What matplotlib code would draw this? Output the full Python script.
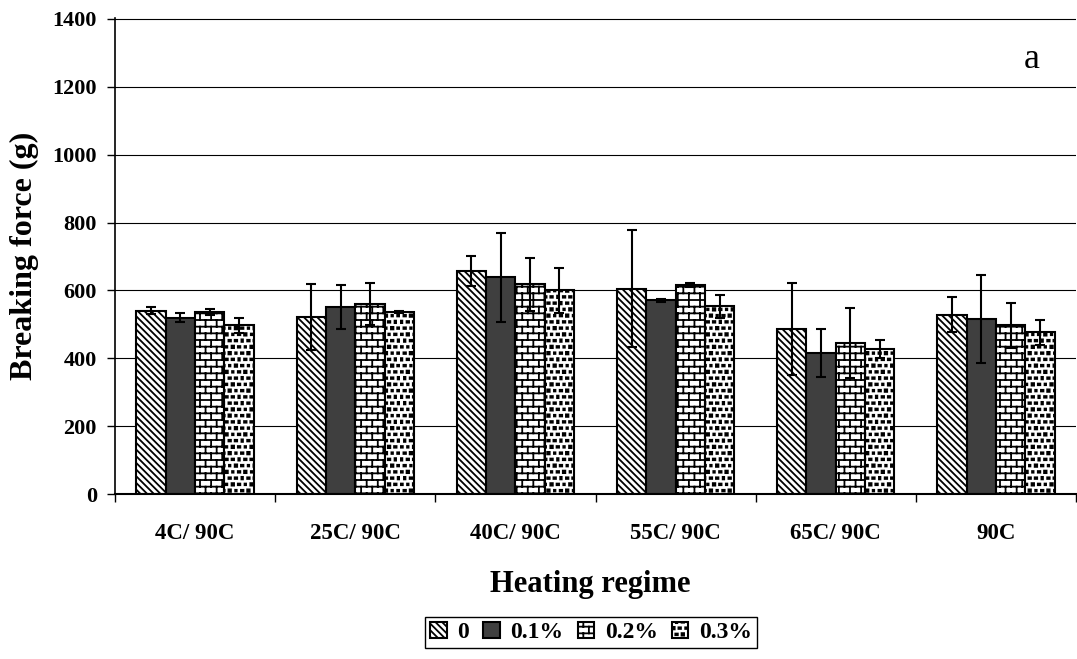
import warnings

import numpy as np
import matplotlib
matplotlib.use("Agg")
import matplotlib.pyplot as plt
from matplotlib import hatch as mhatch
from matplotlib.path import Path

warnings.filterwarnings("ignore", message=".*hatch must consist.*")

# ---------------------------------------------------------------- data
regimes = ["4C/ 90C", "25C/ 90C", "40C/ 90C", "55C/ 90C", "65C/ 90C", "90C"]
levels = ["0", "0.1%", "0.2%", "0.3%"]

force_0 = [540, 521, 657, 605, 487, 528]
force_01 = [520, 551, 639, 571, 416, 515]
force_02 = [536, 559, 618, 615, 445, 497]
force_03 = [497, 536, 600, 553, 428, 477]

err_0 = [10, 97, 43, 172, 136, 52]
err_01 = [14, 66, 131, 4, 70, 129]
err_02 = [8, 62, 79, 6, 104, 66]
err_03 = [22, 2, 67, 34, 27, 37]

yticks = [0, 200, 400, 600, 800, 1000, 1200, 1400]


# ---------------------------------------------------------------- fill patterns
class BrickHatch(mhatch.HatchPatternBase):
    """Staggered brick courses: one tile per 'b' in the hatch string."""

    def __init__(self, hatch, density):
        n = hatch.count("b")
        self.rows = 15 * n
        self.cols = 9 * n
        if n:
            self.num_vertices = 2 * (self.rows + 1) + 2 * self.rows * (self.cols + 1)
        else:
            self.num_vertices = 0

    def set_vertices_and_codes(self, vertices, codes):
        segs = []
        for i in range(self.rows + 1):
            y = i / self.rows
            segs.append(((0.0, y), (1.0, y)))
        for i in range(self.rows):
            y0, y1 = i / self.rows, (i + 1) / self.rows
            shift = 0.5 * (i % 2)
            for j in range(self.cols + 1):
                x = (j + shift) / self.cols
                segs.append(((x, y0), (x, y1)))
        vertices[:] = np.asarray(segs, dtype=float).reshape(-1, 2)
        codes[0::2] = Path.MOVETO
        codes[1::2] = Path.LINETO


class ConfettiHatch(mhatch.HatchPatternBase):
    """Staggered small filled blobs: one tile per 'q' in the hatch string."""

    def __init__(self, hatch, density):
        n = hatch.count("q")
        self.n = 16 * n
        self.num_vertices = 5 * self.n * self.n if n else 0

    def set_vertices_and_codes(self, vertices, codes):
        s = 1.0 / self.n
        verts = []
        for i in range(self.n):
            for j in range(self.n):
                # alternate blob proportions to break up the regular grid
                a = (0.40 if (i + j) % 3 else 0.24) * s
                b = (0.26 if (i + 2 * j) % 3 else 0.40) * s
                cx = (j + 0.25 + 0.5 * (i % 2)) * s
                cy = (i + 0.5) * s
                verts += [(cx - a / 2, cy - b / 2), (cx + a / 2, cy - b / 2),
                          (cx + a / 2, cy + b / 2), (cx - a / 2, cy + b / 2),
                          (cx - a / 2, cy - b / 2)]
        vertices[:] = np.asarray(verts, dtype=float)
        codes[:] = np.tile([Path.MOVETO, Path.LINETO, Path.LINETO,
                            Path.LINETO, Path.CLOSEPOLY], self.n * self.n)


mhatch._hatch_types.append(BrickHatch)
mhatch._hatch_types.append(ConfettiHatch)

# ---------------------------------------------------------------- style
plt.rcParams["font.family"] = ["Liberation Serif", "DejaVu Serif"]
plt.rcParams["font.weight"] = "bold"
plt.rcParams["axes.labelweight"] = "bold"
plt.rcParams["hatch.linewidth"] = 1.3
plt.rcParams["hatch.color"] = "black"

W, H = 1077, 659
fig = plt.figure(figsize=(W / 100, H / 100), dpi=100)

ymax = 1404
px_per_unit = 475 / 1400
ax_left, ax_right, ax_bottom = 115, 1076, 494
ax_top = ax_bottom - ymax * px_per_unit
ax = fig.add_axes([ax_left / W, 1 - ax_bottom / H,
                   (ax_right - ax_left) / W, (ax_bottom - ax_top) / H])

x = np.arange(len(regimes))
width = 0.183
series = [
    (force_0, err_0, "white", "\\\\\\\\\\"),
    (force_01, err_01, "#3f3f3f", None),
    (force_02, err_02, "white", "b"),
    (force_03, err_03, "white", "q"),
]

for k, (vals, errs, fc, hp) in enumerate(series):
    pos = x + (k - 1.5) * width
    ax.bar(pos, vals, width, color=fc, edgecolor="black", linewidth=1.5,
           hatch=hp, label=levels[k], zorder=2)
    ax.errorbar(pos, vals, yerr=errs, fmt="none", ecolor="black",
                elinewidth=1.5, capsize=3.6, capthick=1.5, zorder=3)

# ---------------------------------------------------------------- axes
ax.set_xlim(-0.5, len(regimes) - 0.5)
ax.set_ylim(0, ymax)
ax.set_yticks(yticks)
ax.yaxis.grid(True, color="black", linewidth=0.8)
ax.set_axisbelow(True)

ax.set_xticks(np.arange(-0.5, len(regimes), 1.0))
ax.set_xticklabels([])
ax.set_xticks(x, minor=True)
ax.set_xticklabels(regimes, minor=True)
ax.tick_params(axis="x", which="major", length=6, width=1.0, direction="out")
ax.tick_params(axis="x", which="minor", length=0, pad=21, labelsize=16.5)
ax.tick_params(axis="y", length=6, width=1.0, pad=7, labelsize=16)

for side in ("top", "right"):
    ax.spines[side].set_visible(False)
ax.spines["left"].set_linewidth(1.2)
ax.spines["bottom"].set_linewidth(1.5)

ax.set_ylabel("Breaking force (g)", fontsize=23, fontweight="bold",
              va="center")
ax.yaxis.set_label_coords((24 - ax_left) / (ax_right - ax_left), 0.5)
ax.set_xlabel("Heating regime", fontsize=22, fontweight="bold",
              va="baseline")
ax.xaxis.set_label_coords((590 - ax_left) / (ax_right - ax_left),
                          (ax_bottom - 592) / (ax_bottom - ax_top))

ax.text((1032 - ax_left) / (ax_right - ax_left),
        (ax_bottom - 68) / (ax_bottom - ax_top),
        "a", transform=ax.transAxes, fontsize=26, fontweight="normal",
        ha="center", va="baseline")

leg = ax.legend(loc="center", bbox_to_anchor=(591 / W, 1 - 632.5 / H),
                bbox_transform=fig.transFigure, ncol=4, fontsize=17,
                frameon=True, fancybox=False, framealpha=1, edgecolor="black",
                borderpad=0.2, handlelength=0.7, handleheight=0.7,
                handletextpad=0.45, columnspacing=0.6, borderaxespad=0)
leg.get_frame().set_linewidth(1.0)

fig.savefig("out.png", dpi=100)
